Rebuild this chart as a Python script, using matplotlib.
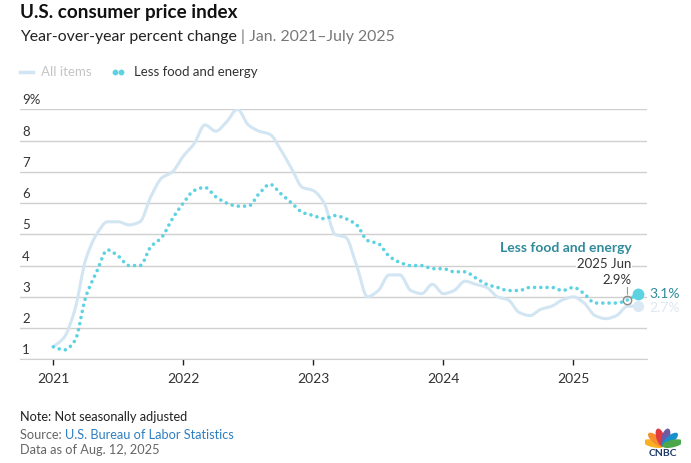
import numpy as np
import matplotlib
matplotlib.use("Agg")
import matplotlib.pyplot as plt
from matplotlib.path import Path
from matplotlib.patches import PathPatch, Ellipse
from matplotlib.transforms import offset_copy

plt.rcParams['font.family'] = ['Lato', 'DejaVu Sans']

# Monthly year-over-year % change, Jan 2021 - Jul 2025
all_items = [
    1.4, 1.7, 2.6, 4.2, 5.0, 5.4, 5.4, 5.3, 5.4, 6.2, 6.8, 7.0,
    7.5, 7.9, 8.5, 8.3, 8.6, 9.0, 8.5, 8.3, 8.2, 7.7, 7.1, 6.5,
    6.4, 6.0, 5.0, 4.9, 4.0, 3.0, 3.2, 3.7, 3.7, 3.2, 3.1, 3.4,
    3.1, 3.2, 3.5, 3.4, 3.3, 3.0, 2.9, 2.5, 2.4, 2.6, 2.7, 2.9,
    3.0, 2.8, 2.4, 2.3, 2.4, 2.7, 2.7,
]
core = [
    1.4, 1.3, 1.6, 3.0, 3.8, 4.5, 4.3, 4.0, 4.0, 4.6, 4.9, 5.5,
    6.0, 6.4, 6.5, 6.2, 6.0, 5.9, 5.9, 6.3, 6.6, 6.3, 6.0, 5.7,
    5.6, 5.5, 5.6, 5.5, 5.3, 4.8, 4.7, 4.3, 4.1, 4.0, 4.0, 3.9,
    3.9, 3.8, 3.8, 3.6, 3.4, 3.3, 3.2, 3.2, 3.3, 3.3, 3.3, 3.2,
    3.3, 3.1, 2.8, 2.8, 2.8, 2.9, 3.1,
]
start_year = 2021
year_ticks = [2021, 2022, 2023, 2024, 2025]
y_ticks = [1, 2, 3, 4, 5, 6, 7, 8, 9]

months = np.arange(len(core))
x = start_year + months / 12.0

LIGHT = '#d2e5f2'
CYAN = '#5dd3e2'
TEAL = '#2f8b99'


def smooth_path(xs, ys):
    # monotone cubic curve drawn as bezier segments
    xs = np.asarray(xs, float)
    ys = np.asarray(ys, float)
    h = np.diff(xs)
    d = np.diff(ys) / h
    m = np.zeros(len(xs))
    m[0], m[-1] = d[0], d[-1]
    for i in range(1, len(xs) - 1):
        if d[i - 1] * d[i] <= 0:
            m[i] = 0
        else:
            m[i] = 2.0 / (1.0 / d[i - 1] + 1.0 / d[i])
    verts = [(xs[0], ys[0])]
    codes = [Path.MOVETO]
    for i in range(len(xs) - 1):
        verts += [(xs[i] + h[i] / 3, ys[i] + m[i] * h[i] / 3),
                  (xs[i + 1] - h[i] / 3, ys[i + 1] - m[i + 1] * h[i] / 3),
                  (xs[i + 1], ys[i + 1])]
        codes += [Path.CURVE4] * 3
    return Path(verts, codes)


fig = plt.figure(figsize=(6.91, 4.63), dpi=100)
W, H = 691, 463
ax = fig.add_axes([20 / W, (H - 359.3) / H, 627 / W, 250 / H])

ax.set_xlim(2021 - 33.3 / 130, 2021 + (647 - 53.3) / 130)
ax.set_ylim(1, 9)

ax.set_yticks(y_ticks)
ax.grid(axis='y', color='#d0d0d0', lw=1)
ax.tick_params(axis='y', length=0, labelleft=False)
ax.set_xticks(year_ticks)
ax.set_xticklabels([str(yr) for yr in year_ticks], fontsize=10, color='#333333')
ax.tick_params(axis='x', length=4, width=1, color='#222222', pad=6)
for s in ['top', 'right', 'left']:
    ax.spines[s].set_visible(False)
ax.spines['bottom'].set_color('#d0d0d0')
ax.set_axisbelow(True)

# y labels sitting above gridlines
lab_tr = offset_copy(ax.get_yaxis_transform(), fig=fig, x=2, y=5, units='dots')
for v in y_ticks:
    ax.text(0, v, f"{v}%" if v == 9 else str(v), transform=lab_tr,
            fontsize=9.5, color='#333333', ha='left', va='baseline')

ax.add_patch(PathPatch(smooth_path(x, all_items), fill=False, edgecolor=LIGHT,
                       lw=2.2, capstyle='round', joinstyle='round', zorder=3))
ax.add_patch(PathPatch(smooth_path(x, core), fill=False, edgecolor=CYAN,
                       lw=2.6, linestyle=(0, (0.01, 1.72)), capstyle='round',
                       zorder=4))

# end markers and labels
ax.plot(x[-1], all_items[-1], 'o', ms=7, color='#dbe9f4', zorder=5, clip_on=False)
ax.plot(x[-1], core[-1], 'o', ms=7.5, color=CYAN, zorder=6, clip_on=False)
ax.annotate(f"{core[-1]:.1f}%", (x[-1], core[-1]), xytext=(11, 0),
            textcoords='offset pixels', fontsize=10, color=TEAL,
            ha='left', va='center', annotation_clip=False)
ax.annotate(f"{all_items[-1]:.1f}%", (x[-1], all_items[-1]), xytext=(11, -2),
            textcoords='offset pixels', fontsize=10, color='#dde8f0',
            ha='left', va='center', annotation_clip=False)

# June 2025 callout
jx, jy = x[-2], core[-2]
ax.plot(jx, jy, 'o', ms=6, mfc='none', mec='#8a8a8a', mew=1, zorder=7)
ax.annotate('', (jx, jy), xytext=(0, 14), textcoords='offset pixels',
            arrowprops=dict(arrowstyle='-', color='#9a9a9a', lw=0.8,
                            shrinkA=0, shrinkB=4))
box = dict(facecolor='white', edgecolor='none', pad=0.5)
ax.annotate(f"{jy:.1f}%", (jx, jy), xytext=(4, 20), textcoords='offset pixels',
            fontsize=9.5, color='#333333', ha='right', va='center', bbox=box)
ax.annotate("2025 Jun", (jx, jy), xytext=(4, 36), textcoords='offset pixels',
            fontsize=9.5, color='#333333', ha='right', va='center', bbox=box)
ax.annotate("Less food and energy", (jx, jy), xytext=(4, 52),
            textcoords='offset pixels', fontsize=10, fontweight='bold',
            color=TEAL, ha='right', va='center', bbox=box)

# titles
fig.text(20 / W, 1 - 18.3 / H, "U.S. consumer price index", fontsize=13.6,
         fontweight='bold', color='#111111')
t = fig.text(20 / W, 1 - 40.7 / H, "Year-over-year percent change ", fontsize=11.4,
             color='#222222')
fig.canvas.draw()
bb = t.get_window_extent()
fig.text(bb.x1 / W, 1 - 40.7 / H, "| Jan. 2021\u2013July 2025", fontsize=11.4,
         color='#777777')

# legend
fig.add_artist(plt.Line2D([20 / W, 33 / W], [1 - 72 / H] * 2, color=LIGHT, lw=2.5))
fig.text(41 / W, 1 - 76 / H, "All items", fontsize=9.5, color='#c4c4c4')
fig.add_artist(plt.Line2D([115 / W, 121 / W], [1 - 72 / H] * 2, color=CYAN, lw=0,
                          marker='o', ms=3.2))
fig.text(134 / W, 1 - 76 / H, "Less food and energy", fontsize=9.5, color='#333333')

# footer
fig.text(20 / W, 1 - 420.7 / H, "Note: Not seasonally adjusted", fontsize=9.2,
         color='#222222')
s = fig.text(20 / W, 1 - 439 / H, "Source: ", fontsize=9.2, color='#666666')
fig.canvas.draw()
bb = s.get_window_extent()
fig.text(bb.x1 / W, 1 - 439 / H, "U.S. Bureau of Labor Statistics", fontsize=9.2,
         color='#2f7fc1')
fig.text(20 / W, 1 - 454.3 / H, "Data as of Aug. 12, 2025", fontsize=9.2,
         color='#666666')

# peacock mark
lax = fig.add_axes([645 / W, 1 - 448 / H, 36 / W, 20 / H])
lax.set_xlim(-1.1, 1.1)
lax.set_ylim(-0.1, 1.3)
lax.axis('off')
feathers = ['#fbb021', '#f68d2e', '#e23b3f', '#6e5ba6', '#1a8fcd', '#4aa84a']
angles = np.linspace(165, 15, len(feathers))
for c, a in zip(feathers, angles):
    r = np.radians(a)
    lax.add_patch(Ellipse((0.6 * np.cos(r), 0.6 * np.sin(r) + 0.05), 0.42, 1.2,
                          angle=a - 90, color=c))
fig.text(663 / W, 1 - 456 / H, "CNBC", fontsize=7.5, fontweight='bold',
         color='#1d3b6a', ha='center')

fig.savefig("out.png", dpi=100)
